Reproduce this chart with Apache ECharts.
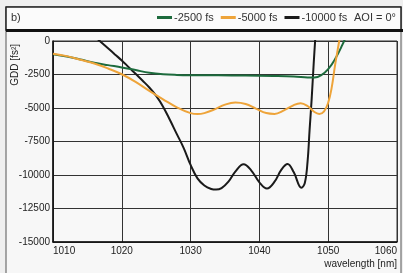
<!DOCTYPE html>
<html>
<head>
<meta charset="utf-8">
<script src="https://cdn.jsdelivr.net/npm/echarts@6/dist/echarts.min.js"></script>
<style>
  html, body { margin: 0; padding: 0; background: #efefef; }
  #chart { width: 403px; height: 273px; }
</style>
</head>
<body>
<div id="chart"></div>
<script>
const xTicks = [1010, 1020, 1030, 1040, 1050, 1060]
const yTicks = [0, -2500, -5000, -7500, -10000, -12500, -15000]

const wlGreen = [1010, 1012, 1014, 1016, 1018, 1020, 1022, 1024, 1026, 1028, 1030, 1034, 1038, 1042, 1045, 1047, 1048, 1049, 1050, 1051, 1052, 1053]
const gddGreen = [-990, -1160, -1380, -1620, -1800, -1970, -2170, -2370, -2480, -2530, -2550, -2560, -2580, -2610, -2650, -2720, -2730, -2550, -2100, -1350, -350, 800]

const wlOrange = [1010, 1012, 1014, 1016, 1018, 1020, 1022, 1024, 1026, 1028, 1030, 1031, 1032, 1033.5, 1035, 1036.5, 1038, 1039.5, 1041, 1042.2, 1043.5, 1045, 1046, 1047, 1048, 1048.7, 1049.4, 1050, 1050.5, 1051, 1051.5, 1052]
const gddOrange = [-950, -1130, -1400, -1680, -2050, -2480, -3050, -3720, -4350, -4950, -5380, -5450, -5380, -5100, -4750, -4590, -4700, -5050, -5380, -5440, -5200, -4780, -4640, -4850, -5300, -5440, -5250, -4600, -3500, -1800, -300, 1200]

const wlBlack = [1016, 1017, 1018, 1019, 1020, 1021, 1022, 1023, 1024, 1025, 1026, 1027, 1028, 1029, 1030, 1031, 1032, 1033, 1033.7, 1034.5, 1035.5, 1036.5, 1037.7, 1038.8, 1040, 1041.1, 1042.2, 1043.2, 1044.1, 1045, 1046.1, 1046.6, 1047, 1047.3, 1047.6, 1047.9, 1048.2]
const gddBlack = [350, -90, -540, -1000, -1450, -1950, -2450, -2950, -3470, -4100, -4900, -5900, -6950, -7990, -9250, -10250, -10780, -11040, -11090, -10980, -10500, -9750, -9200, -9650, -10550, -11010, -10500, -9600, -9180, -9800, -10950, -10600, -9000, -6600, -4300, -1600, 800]

const font = 'Liberation Sans'
const pairs = (xs, ys) => xs.map((x, i) => [x, ys[i]])

const chart = echarts.init(document.getElementById('chart'))

chart.setOption({
  backgroundColor: '#efefef',
  textStyle: { fontFamily: font },
  graphic: [
    { type: 'rect', z: -10, shape: { x: 6, y: 7, width: 395, height: 270 }, style: { fill: '#f7f7f7', stroke: '#555', lineWidth: 1 } },
    { type: 'rect', z: -9, shape: { x: 6, y: 7, width: 395, height: 23 }, style: { fill: '#fbfbfb', stroke: '#222', lineWidth: 1.5 } },
    { type: 'line', z: -8, shape: { x1: 6, y1: 30.5, x2: 403, y2: 30.5 }, style: { stroke: '#111', lineWidth: 3 } },
    { type: 'text', x: 11, y: 18, style: { text: 'b)', font: '11px ' + font, fill: '#333', verticalAlign: 'middle' } },
    { type: 'text', x: 354, y: 18, style: { text: 'AOI = 0°', font: '11px ' + font, fill: '#333', verticalAlign: 'middle' } },
    {
      type: 'text', x: 15, y: 44, rotation: Math.PI / 2,
      style: { text: 'GDD [fs²]', font: '10px ' + font, fill: '#222', align: 'right', verticalAlign: 'middle' }
    }
  ],
  legend: {
    left: 157,
    top: 12,
    padding: 0,
    itemWidth: 15,
    itemHeight: 3,
    itemGap: 7,
    icon: 'rect',
    textStyle: { fontSize: 11, color: '#333', fontFamily: font, padding: [0, 0, 0, -3] },
    data: ['-2500 fs', '-5000 fs', '-10000 fs']
  },
  grid: {
    left: 53,
    right: 6,
    top: 41,
    bottom: 31,
    show: true,
    backgroundColor: '#f8f8f8',
    borderColor: '#333',
    borderWidth: 1
  },
  xAxis: {
    type: 'value',
    min: xTicks[0],
    max: xTicks[xTicks.length - 1],
    interval: 10,
    name: 'wavelength [nm]',
    nameLocation: 'end',
    nameGap: 0,
    nameTextStyle: { fontSize: 10, color: '#222', align: 'right', verticalAlign: 'top', padding: [17, 0, 0, 0] },
    axisLine: { onZero: false, lineStyle: { color: '#111', width: 1.5 } },
    axisTick: { show: false },
    axisLabel: { color: '#222', fontSize: 10, margin: 4, alignMinLabel: 'left', alignMaxLabel: 'right', formatter: (v) => String(v) },
    splitLine: { lineStyle: { color: '#333', width: 1 } }
  },
  yAxis: {
    type: 'value',
    min: yTicks[yTicks.length - 1],
    max: yTicks[0],
    interval: 2500,
    axisLine: { show: true, onZero: false, lineStyle: { color: '#111', width: 1.5 } },
    axisTick: { show: false },
    axisLabel: { color: '#222', fontSize: 10, margin: 3, formatter: (v) => String(v) },
    splitLine: { lineStyle: { color: '#333', width: 1 } }
  },
  series: [
    {
      name: '-2500 fs', type: 'line', data: pairs(wlGreen, gddGreen), smooth: 0.4, showSymbol: false,
      lineStyle: { color: '#1d6b3d', width: 2 }, itemStyle: { color: '#1d6b3d' }, z: 3
    },
    {
      name: '-5000 fs', type: 'line', data: pairs(wlOrange, gddOrange), smooth: 0.4, showSymbol: false,
      lineStyle: { color: '#eea43a', width: 2 }, itemStyle: { color: '#eea43a' }, z: 4
    },
    {
      name: '-10000 fs', type: 'line', data: pairs(wlBlack, gddBlack), smooth: 0.4, showSymbol: false,
      lineStyle: { color: '#1a1a1a', width: 2 }, itemStyle: { color: '#1a1a1a' }, z: 2
    }
  ]
})
</script>
</body>
</html>
